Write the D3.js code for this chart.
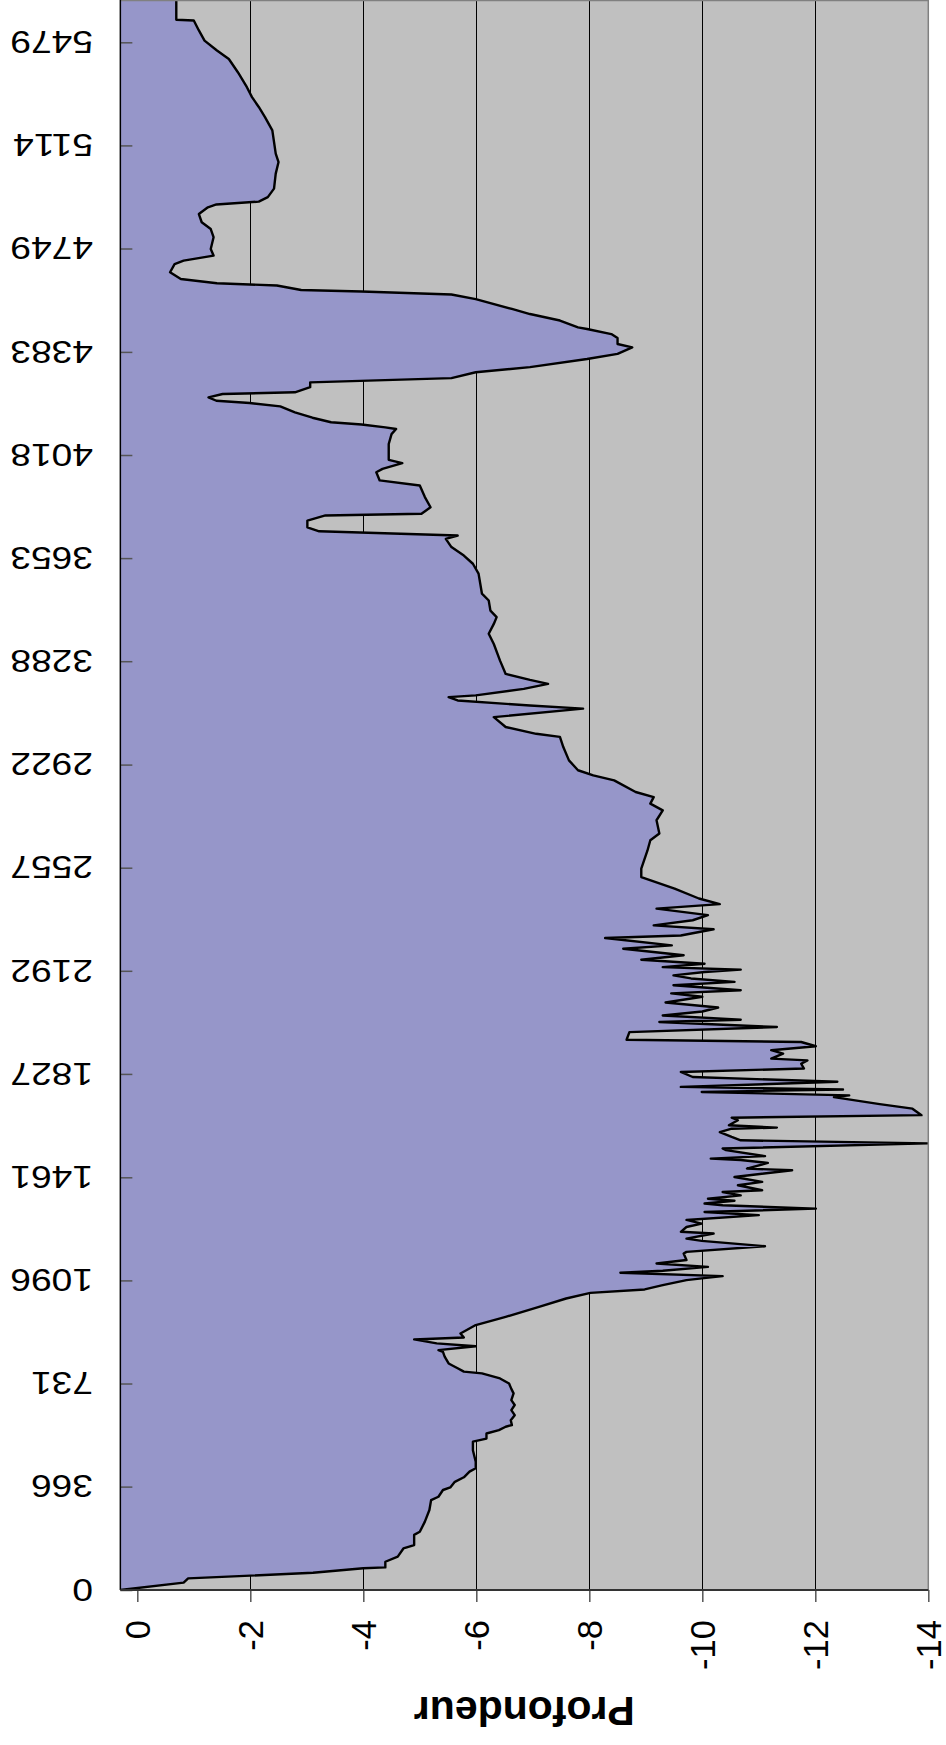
<!DOCTYPE html>
<html>
<head>
<meta charset="utf-8">
<script src="https://cdn.jsdelivr.net/npm/d3@7"></script>
<style>
  body { margin: 0; background: #fff; }
  svg { display: block; }
  text { font-family: "Liberation Sans", Arial, sans-serif; fill: #000; }
</style>
</head>
<body>
<div id="chart"></div>
<script>
// day index and depth (m)
var days = [0,26,41,61,77,80,100,118,147,159,195,206,242,283,318,330,354,363,383,399,419,431,454,495,525,536,554,566,578,584,
  601,619,637,655,672,696,712,731,749,767,773,785,802,826,843,849,863,873,887,894,908,938,967,1002,1032,1052,1064,1079,1097,1103,
  1111,1123,1130,1144,1156,1168,1191,1197,1217,1236,1244,1262,1268,1285,1297,1310,1327,1338,1350,1362,1368,1378,1385,1397,1409,1415,1433,1445,1462,1486,
  1492,1512,1522,1527,1536,1557,1563,1581,1592,1604,1621,1633,1637,1645,1663,1672,1681,1704,1720,1745,1751,1763,1772,1781,1799,1816,1834,1846,1863,1875,
  1881,1899,1911,1925,1940,1948,1975,1993,2011,2019,2034,2048,2062,2080,2100,2112,2123,2141,2153,2165,2176,2188,2196,2205,2217,2231,2247,2270,2282,2308,
  2317,2339,2353,2371,2389,2412,2428,2448,2483,2524,2554,2618,2654,2678,2725,2760,2784,2807,2825,2866,2884,2902,2937,2984,3020,3031,3055,3090,3120,3131,
  3149,3161,3167,3190,3208,3222,3243,3290,3349,3385,3420,3444,3467,3503,3527,3598,3633,3662,3692,3721,3733,3748,3762,3786,3804,3810,3833,3869,3910,3928,
  3957,3969,3989,4001,4057,4092,4110,4116,4126,4134,4150,4169,4190,4202,4210,4222,4234,4240,4258,4275,4290,4311,4329,4358,4376,4399,4411,4432,4446,4464,
  4470,4494,4517,4535,4570,4586,4597,4602,4618,4626,4641,4665,4694,4706,4724,4747,4789,4818,4842,4871,4895,4905,4915,4931,4961,5014,5055,5085,5167,5214,
  5250,5285,5320,5373,5420,5450,5485,5521,5556,5559,5630];
var depths = [0.30,-0.82,-0.90,-3.11,-4.00,-4.39,-4.39,-4.61,-4.71,-4.90,-4.90,-5.00,-5.09,-5.17,-5.20,-5.33,-5.41,-5.54,-5.62,-5.78,-5.88,-5.99,-5.99,-5.94,-5.94,-6.18,-6.18,-6.40,-6.52,-6.63,
  -6.61,-6.68,-6.62,-6.68,-6.62,-6.66,-6.62,-6.58,-6.42,-6.10,-5.78,-5.67,-5.51,-5.44,-5.41,-5.33,-5.99,-5.30,-4.90,-5.78,-5.72,-5.99,-6.52,-7.11,-7.59,-8.02,-8.98,-9.30,-9.72,-9.99,
  -10.36,-8.55,-9.30,-10.10,-9.19,-9.72,-9.67,-9.72,-11.11,-9.99,-9.72,-10.20,-9.62,-9.72,-9.99,-9.72,-11.00,-10.04,-12.01,-10.36,-10.04,-10.57,-10.10,-10.68,-10.36,-11.06,-10.63,-11.06,-10.57,-11.59,
  -10.79,-11.16,-10.68,-10.15,-11.11,-10.42,-10.36,-13.99,-10.68,-10.52,-10.31,-10.52,-11.32,-10.47,-10.63,-10.52,-13.88,-13.72,-13.14,-12.33,-12.60,-9.99,-12.49,-9.62,-12.39,-9.83,-9.62,-11.80,-11.75,-11.86,
  -11.22,-11.43,-11.22,-12.01,-11.75,-8.66,-8.71,-11.32,-9.24,-10.68,-9.30,-10.00,-10.28,-9.35,-10.00,-9.45,-10.68,-9.49,-10.57,-9.80,-9.49,-10.04,-10.68,-9.30,-10.04,-8.92,-9.67,-8.60,-9.46,-8.28,
  -9.62,-10.20,-9.14,-9.83,-10.10,-9.19,-10.31,-9.94,-9.51,-8.92,-8.92,-9.03,-9.08,-9.24,-9.19,-9.30,-9.08,-9.14,-8.82,-8.44,-8.07,-7.80,-7.64,-7.54,-7.48,-7.06,-6.52,-6.31,-7.89,-6.95,
  -5.67,-5.51,-5.99,-6.84,-7.27,-6.95,-6.52,-6.42,-6.31,-6.22,-6.31,-6.36,-6.25,-6.22,-6.10,-6.04,-5.94,-5.78,-5.56,-5.46,-5.67,-3.22,-3.01,-3.01,-3.33,-5.03,-5.19,-5.09,-5.00,-4.29,
  -4.23,-4.34,-4.69,-4.45,-4.45,-4.50,-4.58,-4.39,-3.97,-3.43,-3.10,-2.79,-2.53,-1.99,-1.40,-1.26,-1.51,-2.79,-3.06,-3.06,-5.56,-5.99,-6.95,-7.96,-8.50,-8.76,-8.50,-8.50,-8.39,-7.96,
  -7.80,-7.48,-6.95,-6.63,-5.99,-5.56,-3.97,-2.90,-2.47,-1.41,-0.77,-0.58,-0.66,-0.82,-1.35,-1.30,-1.35,-1.30,-1.14,-1.09,-1.25,-1.40,-2.15,-2.31,-2.42,-2.45,-2.50,-2.45,-2.39,-2.26,
  -2.15,-2.03,-1.94,-1.78,-1.62,-1.41,-1.19,-1.09,-1.00,-0.69,-0.69];

var dayTicks = [0,366,731,1096,1461,1827,2192,2557,2922,3288,3653,4018,4383,4749,5114,5479];
var depthTicks = [0,-2,-4,-6,-8,-10,-12,-14];
var depthTop = 0.3; // where the day axis crosses
var title = "Profondeur";

var width = 946, height = 1745;

var data = days.map(function(d, i) { return { day: d, depth: depths[i] }; });

// day axis runs bottom to top, depth axis left to right
var xScale = d3.scaleLinear().domain([0, -14]).range([137.3, 928.3]);
var yScale = d3.scaleLinear().domain([0, 5479]).range([1590, 42.3]);

var plotL = xScale(depthTop), plotR = xScale(-14), plotT = 0, plotB = yScale(0);

var svg = d3.select("#chart").append("svg")
    .attr("width", width).attr("height", height);

svg.append("defs").append("clipPath").attr("id", "plot-clip")
  .append("rect")
    .attr("x", plotL).attr("y", plotT)
    .attr("width", plotR - plotL).attr("height", plotB - plotT);

// plot background
svg.append("rect")
    .attr("x", plotL).attr("y", plotT)
    .attr("width", plotR - plotL).attr("height", plotB - plotT)
    .attr("fill", "#c0c0c0");

// gridlines
svg.append("g")
  .selectAll("line")
  .data(depthTicks.filter(function(v) { return v !== 0; }))
  .enter().append("line")
    .attr("x1", function(v) { return Math.round(xScale(v)) + 0.5; })
    .attr("x2", function(v) { return Math.round(xScale(v)) + 0.5; })
    .attr("y1", plotT).attr("y2", plotB)
    .attr("stroke", "#000").attr("stroke-width", 1);

// area + outline
svg.append("path")
    .datum(data)
    .attr("clip-path", "url(#plot-clip)")
    .attr("fill", "#9696c9")
    .attr("d", d3.area()
        .y(function(d) { return yScale(d.day); })
        .x0(plotL)
        .x1(function(d) { return xScale(d.depth); }));

svg.append("path")
    .datum(data)
    .attr("clip-path", "url(#plot-clip)")
    .attr("fill", "none")
    .attr("stroke", "#000")
    .attr("stroke-width", 2.4)
    .attr("stroke-linejoin", "round")
    .attr("d", d3.line()
        .x(function(d) { return xScale(d.depth); })
        .y(function(d) { return yScale(d.day); }));

// plot border (top/right)
svg.append("path")
    .attr("d", "M" + plotL + "," + (plotT + 0.5) + "H" + plotR + "V" + plotB)
    .attr("fill", "none").attr("stroke", "#808080").attr("stroke-width", 1.5);

// day axis (left), ticks pointing into the plot
var dayAxis = svg.append("g")
    .attr("transform", "translate(" + plotL + ",0)")
    .call(d3.axisLeft(yScale).tickValues(dayTicks).tickSize(-12).tickFormat(""));
dayAxis.select(".domain").remove();
dayAxis.selectAll(".tick line").attr("stroke", "#555").attr("stroke-width", 1.5);
svg.append("line")
    .attr("x1", plotL).attr("x2", plotL).attr("y1", plotT).attr("y2", plotB)
    .attr("stroke", "#000").attr("stroke-width", 1.5);

svg.append("g")
  .selectAll("text")
  .data(dayTicks)
  .enter().append("text")
    .attr("transform", function(d) { return "translate(93," + yScale(d) + ") scale(-1.18,-1)"; })
    .attr("y", 11.3)
    .attr("text-anchor", "start")
    .style("font-size", "31.5px")
    .text(function(d) { return d; });

// depth axis (bottom)
var depthAxis = svg.append("g")
    .attr("transform", "translate(0," + plotB + ")")
    .call(d3.axisBottom(xScale).tickValues(depthTicks).tickSize(12).tickFormat(""));
depthAxis.select(".domain").remove();
depthAxis.selectAll(".tick line").attr("stroke", "#555").attr("stroke-width", 1.5);
svg.append("line")
    .attr("x1", plotL).attr("x2", plotR).attr("y1", plotB).attr("y2", plotB)
    .attr("stroke", "#333").attr("stroke-width", 2);

svg.append("g")
  .selectAll("text")
  .data(depthTicks)
  .enter().append("text")
    .attr("transform", function(v) { return "translate(" + xScale(v) + ",1620) rotate(-90)"; })
    .attr("y", 12.4)
    .attr("text-anchor", "end")
    .style("font-size", "34.5px")
    .text(function(v) { return v; });

// axis title, upside down like the source
svg.append("text")
    .attr("transform", "translate(" + ((plotL + plotR) / 2) + ",1697) rotate(180)")
    .attr("text-anchor", "middle")
    .style("font-size", "41px")
    .style("font-weight", "bold")
    .text(title);
</script>
</body>
</html>
